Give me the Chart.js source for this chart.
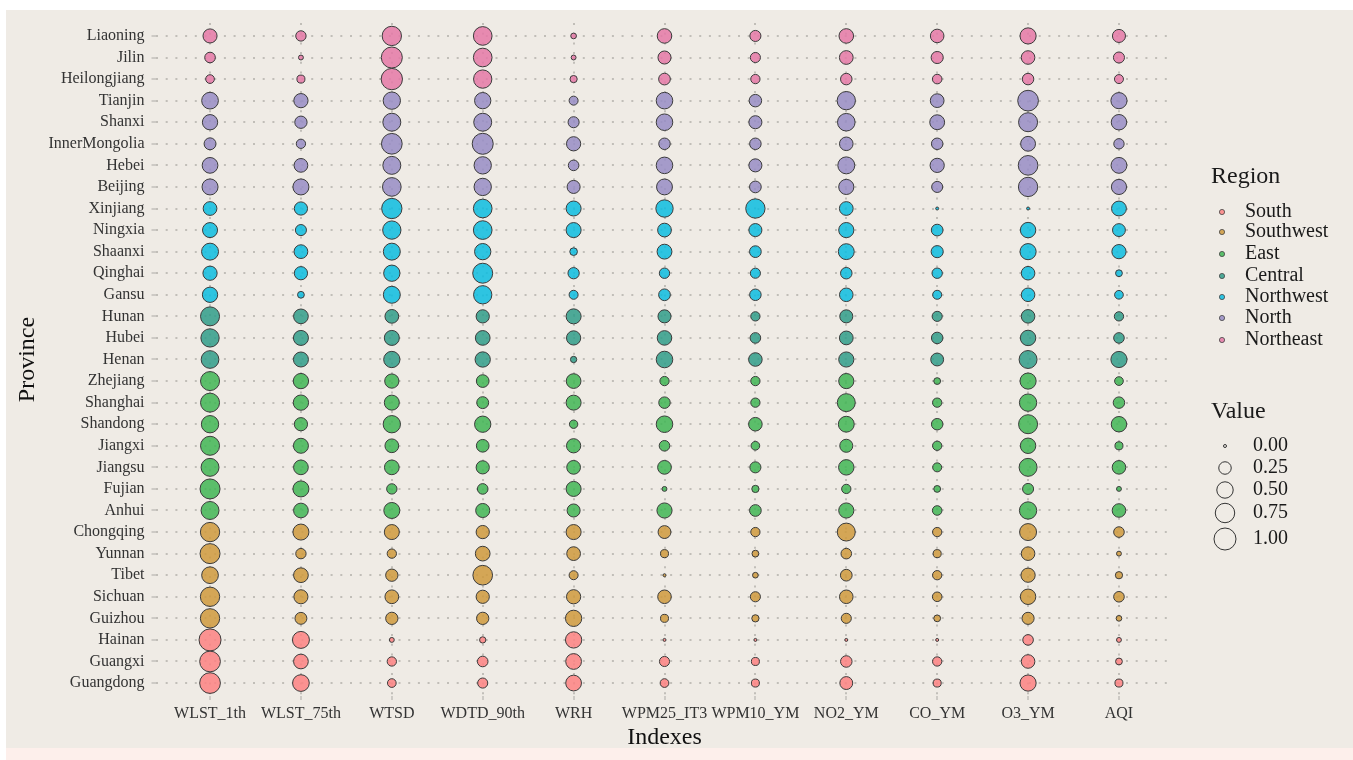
<!DOCTYPE html>
<html><head><meta charset="utf-8">
<script src="https://cdn.jsdelivr.net/npm/chart.js@4.4.1/dist/chart.umd.min.js"></script>
<style>
html,body{margin:0;padding:0;background:#fff;width:1353px;height:760px;overflow:hidden;}
#bg{position:absolute;left:6px;top:10px;width:1347px;height:738px;background:#efebe5;}
#strip{position:absolute;left:6px;top:748px;width:1347px;height:12px;background:#fdefeb;}
#wrap{position:absolute;left:0;top:0;width:1353px;height:760px;}
</style></head><body>
<div id="bg"></div><div id="strip"></div>
<div id="wrap"><canvas id="c" width="1353" height="760"></canvas></div>
<script>
// ---------- data ----------
const provinces = ['Liaoning','Jilin','Heilongjiang','Tianjin','Shanxi','InnerMongolia','Hebei','Beijing',
  'Xinjiang','Ningxia','Shaanxi','Qinghai','Gansu','Hunan','Hubei','Henan','Zhejiang','Shanghai','Shandong',
  'Jiangxi','Jiangsu','Fujian','Anhui','Chongqing','Yunnan','Tibet','Sichuan','Guizhou','Hainan','Guangxi','Guangdong'];
const provinceRegion = ['Northeast','Northeast','Northeast','North','North','North','North','North',
  'Northwest','Northwest','Northwest','Northwest','Northwest','Central','Central','Central',
  'East','East','East','East','East','East','East','Southwest','Southwest','Southwest','Southwest','Southwest',
  'South','South','South'];
const indexes = ['WLST_1th','WLST_75th','WTSD','WDTD_90th','WRH','WPM25_IT3','WPM10_YM','NO2_YM','CO_YM','O3_YM','AQI'];
const regions = ['South','Southwest','East','Central','Northwest','North','Northeast'];
const sizeBreaks = [0.00, 0.25, 0.50, 0.75, 1.00];

const WLST_1th  = [0.34,0.16,0.09,0.52,0.42,0.22,0.45,0.47,0.32,0.40,0.54,0.35,0.42,0.71,0.65,0.60,0.71,0.71,0.57,0.71,0.62,0.80,0.62,0.74,0.80,0.52,0.74,0.74,1.00,0.87,0.87];
const WLST_75th = [0.15,0.01,0.07,0.35,0.24,0.11,0.32,0.47,0.29,0.18,0.32,0.29,0.04,0.38,0.40,0.40,0.42,0.42,0.29,0.40,0.38,0.47,0.38,0.47,0.15,0.38,0.34,0.22,0.54,0.38,0.52];
const WTSD      = [0.74,0.90,0.93,0.57,0.62,0.87,0.62,0.68,0.83,0.65,0.54,0.49,0.54,0.32,0.40,0.49,0.35,0.40,0.57,0.32,0.38,0.15,0.47,0.40,0.11,0.24,0.32,0.24,0.01,0.11,0.09];
const WDTD_90th = [0.68,0.68,0.65,0.49,0.62,0.90,0.57,0.57,0.68,0.68,0.49,0.80,0.65,0.29,0.38,0.42,0.26,0.22,0.49,0.26,0.29,0.16,0.34,0.29,0.38,0.77,0.29,0.24,0.03,0.16,0.14];
const WRH       = [0.02,0.01,0.05,0.10,0.18,0.35,0.16,0.28,0.40,0.40,0.06,0.19,0.10,0.40,0.35,0.03,0.38,0.40,0.08,0.35,0.32,0.40,0.28,0.40,0.32,0.10,0.35,0.49,0.49,0.45,0.45];
const WPM25_IT3 = [0.37,0.28,0.21,0.51,0.51,0.20,0.51,0.46,0.57,0.32,0.39,0.15,0.21,0.28,0.37,0.51,0.11,0.20,0.51,0.16,0.32,0.01,0.41,0.27,0.07,0.00,0.31,0.07,0.00,0.14,0.09];
const WPM10_YM  = [0.18,0.14,0.11,0.25,0.28,0.20,0.28,0.21,0.74,0.28,0.21,0.14,0.20,0.11,0.16,0.31,0.11,0.11,0.31,0.09,0.18,0.05,0.21,0.11,0.04,0.02,0.14,0.05,0.00,0.07,0.07];
const NO2_YM    = [0.37,0.32,0.20,0.65,0.59,0.31,0.54,0.41,0.32,0.41,0.46,0.20,0.31,0.28,0.32,0.41,0.41,0.62,0.46,0.28,0.43,0.11,0.41,0.62,0.16,0.21,0.31,0.14,0.00,0.20,0.27];
const CO_YM     = [0.31,0.23,0.12,0.32,0.39,0.20,0.35,0.18,0.00,0.21,0.23,0.15,0.10,0.14,0.20,0.27,0.04,0.11,0.20,0.11,0.10,0.04,0.12,0.11,0.07,0.11,0.12,0.04,0.00,0.11,0.07];
const O3_YM     = [0.48,0.31,0.20,0.87,0.71,0.39,0.77,0.74,0.00,0.43,0.48,0.31,0.31,0.31,0.43,0.62,0.48,0.57,0.71,0.43,0.62,0.18,0.57,0.54,0.31,0.35,0.43,0.23,0.16,0.31,0.48];
const AQI       = [0.28,0.18,0.10,0.48,0.43,0.15,0.46,0.41,0.39,0.27,0.35,0.04,0.09,0.11,0.16,0.48,0.09,0.20,0.43,0.07,0.31,0.01,0.31,0.16,0.01,0.05,0.16,0.02,0.01,0.04,0.07];

const seriesByIndex = [WLST_1th, WLST_75th, WTSD, WDTD_90th, WRH, WPM25_IT3, WPM10_YM, NO2_YM, CO_YM, O3_YM, AQI];

// ---------- styling ----------
const regionColors = {
  South:'rgba(253,131,130,0.85)', Southwest:'rgba(207,154,61,0.85)', East:'rgba(65,182,85,0.85)',
  Central:'rgba(48,158,138,0.85)', Northwest:'rgba(12,189,225,0.85)', North:'rgba(152,141,198,0.85)',
  Northeast:'rgba(229,121,167,0.85)'
};
const FONT = '"Liberation Serif", "Times New Roman", serif';
// visible diameter = 4 + 19*sqrt(v) (incl. 1px stroke)
function radiusFor(v){ return (4 + 19*Math.sqrt(Math.max(0,v)) - 1)/2; }

const datasets = regions.map(reg => {
  const pts = [];
  provinces.forEach((p, pi) => {
    if (provinceRegion[pi] !== reg) return;
    indexes.forEach((ix, xi) => {
      const v = seriesByIndex[xi][pi];
      pts.push({x: xi, y: pi, r: radiusFor(v), v: v});
    });
  });
  return {label: reg, data: pts, backgroundColor: regionColors[reg], borderColor: '#3a3a3a', borderWidth: 1, hoverBorderWidth: 1};
});

const legendPlugin = {
  id: 'ggLegend',
  afterDraw(chart){
    const ctx = chart.ctx;
    ctx.save();
    ctx.textBaseline = 'middle';
    ctx.textAlign = 'left';
    ctx.fillStyle = '#1a1a1a';
    ctx.font = '24px ' + FONT;
    ctx.fillText('Region', 1211, 177);
    const ry = [212, 232, 254, 276, 297, 318, 340];
    regions.forEach((reg, i) => {
      ctx.beginPath();
      ctx.arc(1222, ry[i], 2.6, 0, Math.PI*2);
      ctx.fillStyle = regionColors[reg];
      ctx.fill();
      ctx.lineWidth = 0.8; ctx.strokeStyle = '#444'; ctx.stroke();
      ctx.fillStyle = '#1a1a1a';
      ctx.font = '20px ' + FONT;
      ctx.fillText(reg, 1245, ry[i]);
    });
    ctx.font = '24px ' + FONT;
    ctx.fillText('Value', 1211, 412);
    const vy = [446, 468, 490, 513, 539];
    sizeBreaks.forEach((b, i) => {
      ctx.beginPath();
      ctx.arc(1225, vy[i], radiusFor(b), 0, Math.PI*2);
      ctx.lineWidth = 1; ctx.strokeStyle = '#333'; ctx.stroke();
      ctx.fillStyle = '#1a1a1a';
      ctx.font = '20px ' + FONT;
      ctx.fillText(b.toFixed(2), 1253, vy[i]);
    });
    ctx.restore();
  }
};

new Chart(document.getElementById('c'), {
  type: 'bubble',
  data: {datasets},
  plugins: [legendPlugin],
  options: {
    responsive: false,
    animation: false,
    events: [],
    layout: {padding: {left: 0, top: 23, right: 179.5, bottom: 8}},
    plugins: {legend: {display: false}, tooltip: {enabled: false}},
    scales: {
      x: {
        type: 'linear', min: -0.6, max: 10.6,
        afterBuildTicks: s => { s.ticks = indexes.map((_, i) => ({value: i})); },
        afterFit: s => { s.height = 56; },
        ticks: {callback: v => indexes[v], autoSkip: false, maxRotation: 0, padding: 4,
                font: {family: FONT, size: 16}, color: '#333'},
        grid: {color: 'rgba(185,182,176,0.85)', lineWidth: 2, tickLength: 4, tickColor: '#c2bfba', tickWidth: 1.5, tickBorderDash: []},
        border: {display: false, dash: [2, 7.7]},
        title: {display: true, text: 'Indexes', font: {family: FONT, size: 24}, color: '#111', padding: {top: 0, bottom: 0}}
      },
      y: {
        type: 'linear', min: -0.6, max: 30.6, reverse: true,
        afterBuildTicks: s => { s.ticks = provinces.map((_, i) => ({value: i})); },
        afterFit: s => { s.width = 155.5; },
        ticks: {callback: v => provinces[v], autoSkip: false, padding: 7,
                font: {family: FONT, size: 16}, color: '#333'},
        grid: {color: 'rgba(185,182,176,0.85)', lineWidth: 2, tickLength: 4, tickColor: '#c2bfba', tickWidth: 1.5, tickBorderDash: []},
        border: {display: false, dash: [2, 7.7]},
        title: {display: true, text: 'Province', font: {family: FONT, size: 24}, color: '#111', padding: {top: 13, bottom: 0}}
      }
    }
  }
});
</script>
</body></html>
